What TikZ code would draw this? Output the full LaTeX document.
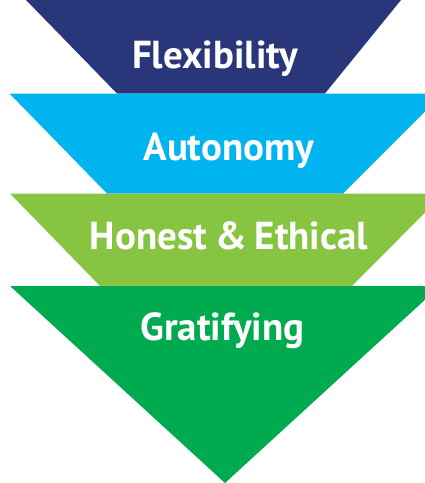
\documentclass[tikz,border=0pt]{standalone}
\usepackage{fontspec}
\setmainfont{PT Sans}
\definecolor{bandA}{RGB}{41,54,121}
\definecolor{bandB}{RGB}{0,180,239}
\definecolor{bandC}{RGB}{135,196,65}
\definecolor{bandD}{RGB}{0,171,79}
\tikzset{lbl/.style={text=white, font=\bfseries\fontsize{39}{42}\selectfont, anchor=base, inner sep=0pt}}
\begin{document}
\begin{tikzpicture}[x=1pt,y=-1pt]
\useasboundingbox (0,0) rectangle (425,483);
\begin{scope}
\clip (0,0) rectangle (425,483);
\fill[bandA] (26,0) -- (401,0) -- (325,93.5) -- (117,93.5) -- cycle;
\fill[bandB] (9.5,93.5) -- (443,93.5) -- (343,193.5) -- (107,193.5) -- cycle;
\fill[bandC] (10,193.5) -- (444,193.5) -- (352,286) -- (100,286) -- cycle;
\fill[bandD] (10,286) -- (440,286) -- (225,483) -- cycle;
\end{scope}
\node[lbl] (t1) at (215,68.5) {Flexibility};
\node[lbl] (t2) at (229,160.5) {Autonomy};
\node[lbl] (t3) at (229,249.5) {Honest\hspace{-2pt} \&\hspace{-2pt} Ethical};
\node[lbl] (t4) at (222.5,340.5) {Gratifying};
\end{tikzpicture}
\end{document}
